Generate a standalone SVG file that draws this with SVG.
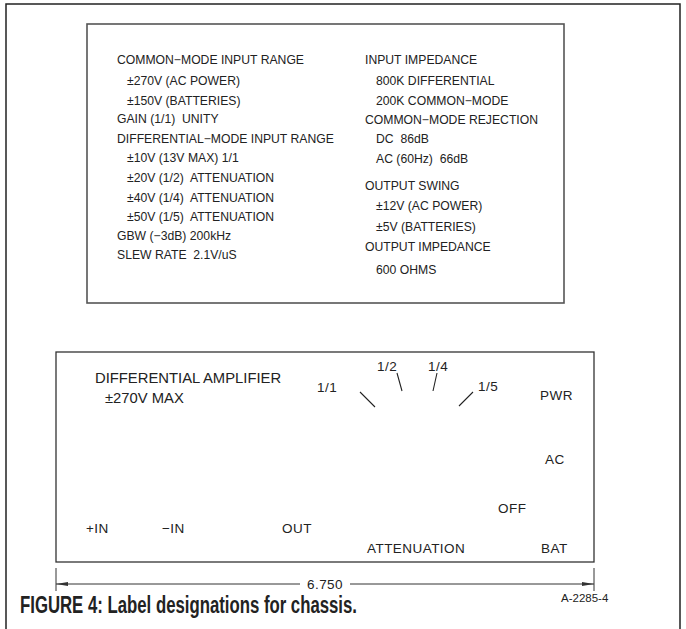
<svg xmlns="http://www.w3.org/2000/svg" width="686" height="629" viewBox="0 0 686 629">
<defs>
<marker id="arr" viewBox="0 0 12 5" refX="12" refY="2.5" markerWidth="12" markerHeight="5" markerUnits="userSpaceOnUse" orient="auto">
<path d="M0,0.6 L12,2.5 L0,4.4 z" fill="#333"/>
</marker>
<style>
.t{font-family:"Liberation Sans",Arial,sans-serif;font-size:12.2px;fill:#222;white-space:pre}
.b{font-family:"Liberation Sans",Arial,sans-serif;font-size:13.5px;fill:#222;letter-spacing:0.45px;white-space:pre}
.h{font-family:"Liberation Sans",Arial,sans-serif;font-size:14.8px;fill:#222;white-space:pre}
.frame{fill:none;stroke:#222;stroke-width:1.5}
.box1{fill:none;stroke:#555;stroke-width:1.6}
.box2{fill:none;stroke:#333;stroke-width:1.3}
.tick{stroke:#222;stroke-width:1.1;fill:none}
.dim{stroke:#333;stroke-width:1;fill:none}
.cap{font-family:"Liberation Sans",Arial,sans-serif;font-weight:bold;font-size:23px;fill:#222}
.code{font-family:"Liberation Sans",Arial,sans-serif;font-size:11.5px;fill:#222}
</style>
</defs>
<rect width="686" height="629" fill="#fff"/>
<path class="frame" d="M6,629 V4 H680 V629"/>

<g id="spec-label">
<rect class="box1" x="87" y="24" width="477" height="279"/>
<text class="t" x="117" y="63.5">COMMON−MODE INPUT RANGE</text>
<text class="t" x="127" y="84.5">±270V (AC POWER)</text>
<text class="t" x="127" y="104.5">±150V (BATTERIES)</text>
<text class="t" x="117" y="123">GAIN (1/1)  UNITY</text>
<text class="t" x="117" y="142.5">DIFFERENTIAL−MODE INPUT RANGE</text>
<text class="t" x="127" y="162">±10V (13V MAX) 1/1</text>
<text class="t" x="127" y="181.5">±20V (1/2)  ATTENUATION</text>
<text class="t" x="127" y="201.5">±40V (1/4)  ATTENUATION</text>
<text class="t" x="127" y="221">±50V (1/5)  ATTENUATION</text>
<text class="t" x="117" y="240">GBW (−3dB) 200kHz</text>
<text class="t" x="117" y="259">SLEW RATE  2.1V/uS</text>
<text class="t" x="365" y="63.5">INPUT IMPEDANCE</text>
<text class="t" x="376" y="84.5">800K DIFFERENTIAL</text>
<text class="t" x="376" y="104.5">200K COMMON−MODE</text>
<text class="t" x="365" y="123.5">COMMON−MODE REJECTION</text>
<text class="t" x="376" y="143">DC  86dB</text>
<text class="t" x="376" y="162.5">AC (60Hz)  66dB</text>
<text class="t" x="365" y="189.5">OUTPUT SWING</text>
<text class="t" x="376" y="210">±12V (AC POWER)</text>
<text class="t" x="376" y="230.5">±5V (BATTERIES)</text>
<text class="t" x="365" y="251">OUTPUT IMPEDANCE</text>
<text class="t" x="376" y="273.5">600 OHMS</text>
</g>

<g id="panel-label">
<rect class="box2" x="56" y="352" width="538" height="210"/>
<text class="h" x="95" y="383">DIFFERENTIAL AMPLIFIER</text>
<text class="h" x="105" y="403">±270V MAX</text>
<text class="b" x="317" y="392">1/1</text>
<text class="b" x="377" y="371">1/2</text>
<text class="b" x="428" y="371">1/4</text>
<text class="b" x="478" y="391">1/5</text>
<text class="b" x="540" y="400">PWR</text>
<text class="b" x="545" y="464">AC</text>
<text class="b" x="498" y="513">OFF</text>
<text class="b" x="86" y="533">+IN</text>
<text class="b" x="162" y="533">−IN</text>
<text class="b" x="282" y="533">OUT</text>
<text class="b" x="367" y="553">ATTENUATION</text>
<text class="b" x="541" y="553">BAT</text>
<path class="tick" d="M360,392 L375,407 M397,373 L402,391 M437,373 L433,391 M473,392 L459,406"/>
</g>

<g id="connectors">
<path class="dim" d="M56,568 V591 M594,568 V591"/>
<line class="dim" x1="300" y1="584" x2="56" y2="584" marker-end="url(#arr)"/>
<line class="dim" x1="350" y1="584" x2="594" y2="584" marker-end="url(#arr)"/>
</g>
<text class="b" x="325" y="589" text-anchor="middle">6.750</text>

<text class="cap" x="20" y="613" textLength="337" lengthAdjust="spacingAndGlyphs">FIGURE 4: Label designations for chassis.</text>
<text class="code" x="561" y="602">A-2285-4</text>
</svg>
